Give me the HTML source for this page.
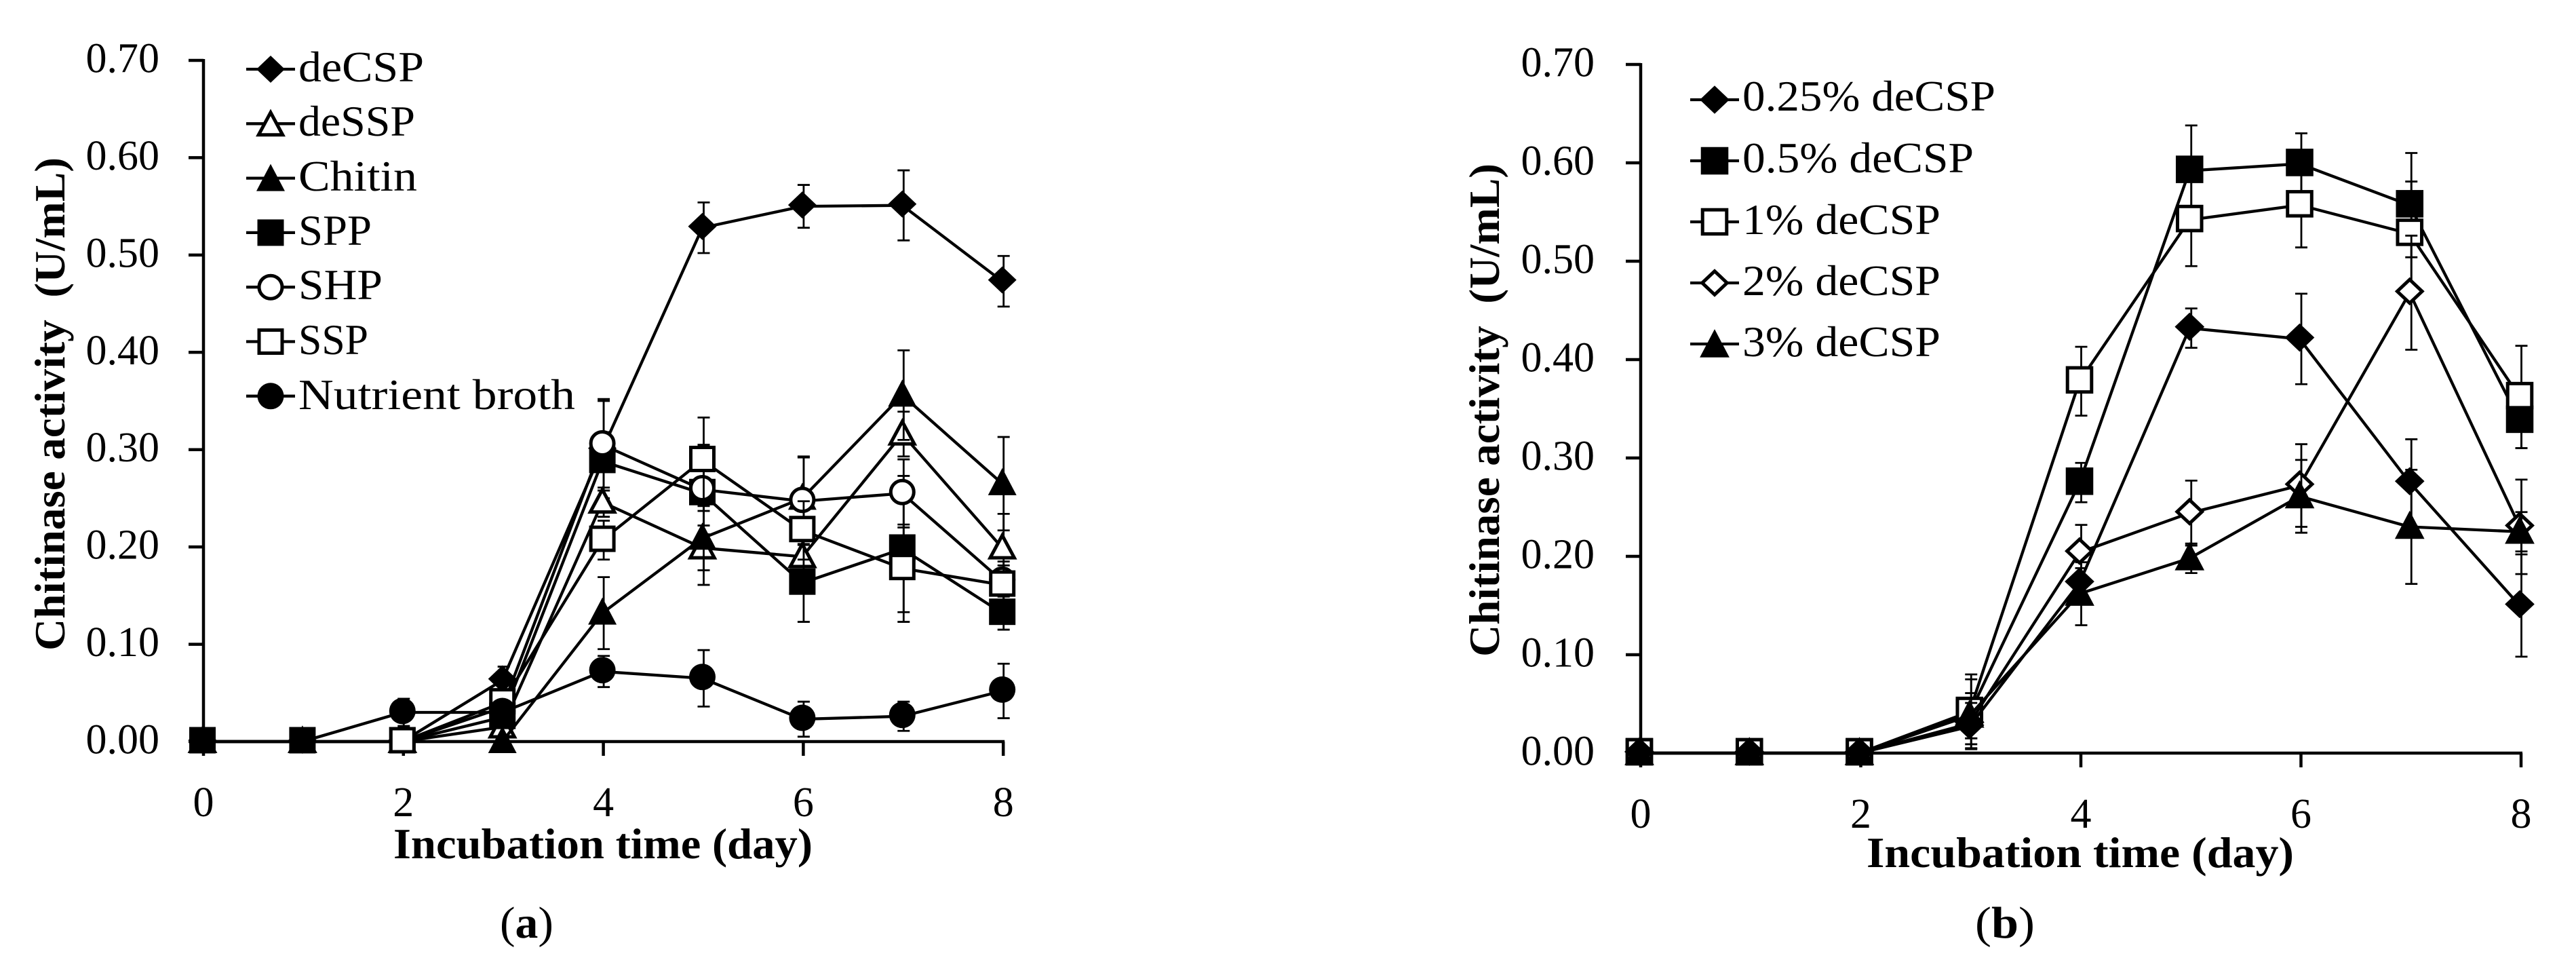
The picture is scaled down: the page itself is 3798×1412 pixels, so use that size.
<!DOCTYPE html>
<html lang="en">
<head>
<meta charset="utf-8">
<title>Chitinase activity over incubation time</title>
<style>
html,body{margin:0;padding:0;background:#fff;}
svg{display:block;}
text{font-family:"Liberation Serif",serif;fill:#000;}
</style>
</head>
<body>
<svg id="figure" xmlns="http://www.w3.org/2000/svg" width="3798" height="1412" viewBox="0 0 3798 1412">
  <rect x="0" y="0" width="3798" height="1412" fill="#fff"/>

  <g id="chart-a"></g>
  <g id="chart-b"></g>

  <text transform="translate(95,959) rotate(-90)" font-size="64" font-weight="bold" textLength="727" lengthAdjust="spacingAndGlyphs">Chitinase activity&#160;&#160;(U/mL)</text>
  <text x="580" y="1265" font-size="64" font-weight="bold" textLength="618" lengthAdjust="spacingAndGlyphs">Incubation time (day)</text>
  <text x="737" y="1382" font-size="66" textLength="79" lengthAdjust="spacingAndGlyphs">(<tspan font-weight="bold">a</tspan>)</text>

  <text x="440" y="120" font-size="64" textLength="185" lengthAdjust="spacingAndGlyphs">deCSP</text>
  <text x="440" y="200" font-size="64" textLength="172" lengthAdjust="spacingAndGlyphs">deSSP</text>
  <text x="440" y="281" font-size="64" textLength="175" lengthAdjust="spacingAndGlyphs">Chitin</text>
  <text x="440" y="361" font-size="64" textLength="108" lengthAdjust="spacingAndGlyphs">SPP</text>
  <text x="440" y="441" font-size="64" textLength="124" lengthAdjust="spacingAndGlyphs">SHP</text>
  <text x="440" y="522" font-size="64" textLength="103" lengthAdjust="spacingAndGlyphs">SSP</text>
  <text x="440" y="603" font-size="64" textLength="408" lengthAdjust="spacingAndGlyphs">Nutrient broth</text>

  <text transform="translate(2210,968) rotate(-90)" font-size="64" font-weight="bold" textLength="727" lengthAdjust="spacingAndGlyphs">Chitinase activity&#160;&#160;(U/mL)</text>
  <text x="2752" y="1278" font-size="64" font-weight="bold" textLength="630" lengthAdjust="spacingAndGlyphs">Incubation time (day)</text>
  <text x="2912" y="1382" font-size="66" textLength="88" lengthAdjust="spacingAndGlyphs">(<tspan font-weight="bold">b</tspan>)</text>

  <text x="2569" y="163" font-size="64" textLength="373" lengthAdjust="spacingAndGlyphs">0.25% deCSP</text>
  <text x="2569" y="254" font-size="64" textLength="341" lengthAdjust="spacingAndGlyphs">0.5% deCSP</text>
  <text x="2569" y="345" font-size="64" textLength="292" lengthAdjust="spacingAndGlyphs">1% deCSP</text>
  <text x="2569" y="435" font-size="64" textLength="292" lengthAdjust="spacingAndGlyphs">2% deCSP</text>
  <text x="2569" y="525" font-size="64" textLength="292" lengthAdjust="spacingAndGlyphs">3% deCSP</text>
</svg>

<script>
// Shared categories and tick labels
const days = [0, 1, 2, 3, 4, 5, 6, 7, 8];
const xTickLabels = [0, 2, 4, 6, 8];
const yTickLabels = ['0.00', '0.10', '0.20', '0.30', '0.40', '0.50', '0.60', '0.70'];

// Chart (a) values
const deCSP = [0, 0, 0, 0.063, 0.300, 0.528, 0.550, 0.551, 0.473];
const deCSPErr = [0, 0, 0, 0.014, 0.050, 0.026, 0.022, 0.036, 0.026];
const deSSP = [0, 0, 0, 0.015, 0.246, 0.199, 0.190, 0.316, 0.199];
const deSSPErr = [0, 0, 0, 0.010, 0.015, 0.038, 0.030, 0.023, 0.035];
const chitin = [0, 0, 0, 0, 0.132, 0.209, 0.250, 0.356, 0.265];
const chitinErr = [0, 0, 0, 0, 0.037, 0.033, 0.043, 0.046, 0.048];
const spp = [0, 0, 0, 0.025, 0.288, 0.255, 0.163, 0.198, 0.132];
const sppErr = [0, 0, 0, 0.010, 0.030, 0.033, 0.040, 0.075, 0.017];
const shp = [null, null, 0, 0.035, 0.305, 0.259, 0.247, 0.255, 0.165];
const shpErr = [0, 0, 0, 0.010, 0.047, 0.046, 0.045, 0.035, 0.020];
const ssp = [null, null, 0, 0.040, 0.207, 0.289, 0.217, 0.178, 0.161];
const sspErr = [0, 0, 0, 0.012, 0.020, 0.044, 0.030, 0.045, 0.020];
const nutrientBroth = [0, 0, 0.030, 0.030, 0.072, 0.065, 0.023, 0.026, 0.052];
const nutrientBrothErr = [0, 0, 0.014, 0.010, 0.016, 0.029, 0.018, 0.015, 0.028];

// Chart (b) values
const conc025 = [0, 0, 0, 0.027, 0.173, 0.432, 0.421, 0.275, 0.150];
const conc025Err = [0, 0, 0, 0.012, 0.015, 0.020, 0.046, 0.044, 0.052];
const conc05 = [0, 0, 0, 0.040, 0.275, 0.592, 0.599, 0.557, 0.338];
const conc05Err = [0, 0, 0, 0.035, 0.020, 0.046, 0.031, 0.053, 0.028];
const conc1 = [0, 0, 0, 0.042, 0.378, 0.542, 0.557, 0.528, 0.362];
const conc1Err = [0, 0, 0, 0.038, 0.035, 0.047, 0.043, 0.053, 0.052];
const conc2 = [0, 0, 0, 0.030, 0.204, 0.244, 0.272, 0.468, 0.230];
const conc2Err = [0, 0, 0, 0.021, 0.028, 0.033, 0.042, 0.058, 0.048];
const conc3 = [0, 0, 0, 0.038, 0.162, 0.198, 0.261, 0.230, 0.225];
const conc3Err = [0, 0, 0, 0.023, 0.032, 0.015, 0.037, 0.058, 0.020];

const NS = 'http://www.w3.org/2000/svg';

function svgEl(parent, tag, attrs) {
  const el = document.createElementNS(NS, tag);
  for (const k in attrs) el.setAttribute(k, attrs[k]);
  parent.appendChild(el);
  return el;
}

function drawMarker(parent, shape, cx, cy, id, size) {
  const filled = shape.indexOf('open') !== 0;
  const fill = filled ? '#000' : '#fff';
  const sw = filled ? 0 : 5;
  const inset = filled ? 0 : 2.5;
  let el;
  if (shape === 'square' || shape === 'open-square') {
    const h = size * 19.5 - inset;
    el = svgEl(parent, 'rect', {x: cx - h, y: cy - h, width: 2 * h, height: 2 * h, fill: fill, stroke: '#000', 'stroke-width': sw});
  } else if (shape === 'circle' || shape === 'open-circle') {
    el = svgEl(parent, 'circle', {cx: cx, cy: cy, r: size * 19.5 - inset, fill: fill, stroke: '#000', 'stroke-width': sw});
  } else if (shape === 'diamond' || shape === 'open-diamond') {
    const a = size * 21 - inset * 1.4;
    const b = size * 20 - inset * 1.4;
    el = svgEl(parent, 'polygon', {points: (cx - a) + ',' + cy + ' ' + cx + ',' + (cy - b) + ' ' + (cx + a) + ',' + cy + ' ' + cx + ',' + (cy + b), fill: fill, stroke: '#000', 'stroke-width': sw});
  } else {
    const a = size * 21 - inset * 1.3;
    const top = size * 21 - inset * 1.8;
    const bot = size * 19 - inset;
    el = svgEl(parent, 'polygon', {points: cx + ',' + (cy - top) + ' ' + (cx + a) + ',' + (cy + bot) + ' ' + (cx - a) + ',' + (cy + bot), fill: fill, stroke: '#000', 'stroke-width': sw});
  }
  
  
  return el;
}

function drawChart(cfg) {
  const root = document.getElementById(cfg.rootId);
  const xScale = function (d) { return cfg.x0 + d * cfg.xStep; };
  const yScale = function (v) { return cfg.y0 - v * cfg.yPerUnit; };
  const yMax = yScale(Number(yTickLabels[yTickLabels.length - 1]));

  const axes = svgEl(root, 'g', {});
  
  

  const yAxis = svgEl(axes, 'line', {x1: cfg.x0, y1: yMax - 2, x2: cfg.x0, y2: cfg.y0 + 2, stroke: '#000', 'stroke-width': 4.5});
  
  

  const xAxis = svgEl(axes, 'line', {x1: cfg.x0 - 2, y1: cfg.y0, x2: xScale(8) + 2, y2: cfg.y0, stroke: '#000', 'stroke-width': 4.5});
  
  

  yTickLabels.forEach(function (label) {
    const y = yScale(Number(label));
    const tick = svgEl(axes, 'line', {x1: cfg.x0 - 22, y1: y, x2: cfg.x0, y2: y, stroke: '#000', 'stroke-width': 4.5});
    
    
    const txt = svgEl(axes, 'text', {x: cfg.yLabelRight, y: y + 17.5, 'font-size': 62, 'text-anchor': 'end'});
    txt.textContent = label;
    
    
  });

  xTickLabels.forEach(function (label) {
    const x = xScale(label);
    const tick = svgEl(axes, 'line', {x1: x, y1: cfg.y0, x2: x, y2: cfg.y0 + 21, stroke: '#000', 'stroke-width': 4.5});
    
    
    const txt = svgEl(axes, 'text', {x: x, y: cfg.xLabelBaseline, 'font-size': 62, 'text-anchor': 'middle'});
    txt.textContent = String(label);
    
    
  });

  cfg.series.forEach(function (s) {
    const group = svgEl(root, 'g', {});
    
    

    days.forEach(function (d, i) {
      const v = s.values[i];
      const e = s.errors[i];
      if (v === null || !e) return;
      const x = xScale(d) + 0.5;
      const yT = yScale(v + e);
      const yB = yScale(v - e);
      const bar = svgEl(group, 'path', {d: 'M' + x + ' ' + yT + 'V' + yB + 'M' + (x - 9) + ' ' + yT + 'H' + (x + 9) + 'M' + (x - 9) + ' ' + yB + 'H' + (x + 9), stroke: '#000', 'stroke-width': 2.8, fill: 'none'});
      
      
    });

    const pts = [];
    days.forEach(function (d, i) {
      if (s.values[i] !== null) pts.push((xScale(d) + cfg.markerDx) + ',' + yScale(s.values[i]));
    });
    const line = svgEl(group, 'polyline', {points: pts.join(' '), fill: 'none', stroke: '#000', 'stroke-width': 4.3, 'stroke-linejoin': 'round'});
    
    

    days.forEach(function (d, i) {
      if (s.values[i] !== null) drawMarker(group, s.shape, xScale(d) + cfg.markerDx, yScale(s.values[i]) - 2, s.id, cfg.markerSize);
    });
  });

  cfg.series.forEach(function (s) {
    const y = cfg.legendY + s.legendRow * cfg.legendStep;
    const g = svgEl(root, 'g', {});
    
    
    const sample = svgEl(g, 'line', {x1: cfg.legendX - 36, y1: y, x2: cfg.legendX + 36, y2: y, stroke: '#000', 'stroke-width': 4.3});
    
    
    drawMarker(g, s.shape, cfg.legendX, y, 'legend-' + s.id, cfg.markerSize);
  });
}

drawChart({
  rootId: 'chart-a', prefix: 'chart-a',
  x0: 300, xStep: 147.4, y0: 1093, yPerUnit: 1434.3,
  yLabelRight: 235, xLabelBaseline: 1203, markerDx: -1.5, markerSize: 1,
  legendX: 399, legendY: 102, legendStep: 80.3,
  series: [
    {id: 'decsp', legendRow: 0, shape: 'diamond', values: deCSP, errors: deCSPErr},
    {id: 'dessp', legendRow: 1, shape: 'open-triangle', values: deSSP, errors: deSSPErr},
    {id: 'chitin', legendRow: 2, shape: 'triangle', values: chitin, errors: chitinErr},
    {id: 'spp', legendRow: 3, shape: 'square', values: spp, errors: sppErr},
    {id: 'shp', legendRow: 4, shape: 'open-circle', values: shp, errors: shpErr},
    {id: 'ssp', legendRow: 5, shape: 'open-square', values: ssp, errors: sspErr},
    {id: 'nutrient-broth', legendRow: 6, shape: 'circle', values: nutrientBroth, errors: nutrientBrothErr}
  ]
});

drawChart({
  rootId: 'chart-b', prefix: 'chart-b',
  x0: 2419, xStep: 162.25, y0: 1110, yPerUnit: 1450,
  yLabelRight: 2351, xLabelBaseline: 1220, markerDx: -2, markerSize: 1.04,
  legendX: 2528, legendY: 147, legendStep: 90,
  series: [
    {id: 'conc-05', legendRow: 1, shape: 'square', values: conc05, errors: conc05Err},
    {id: 'conc-1', legendRow: 2, shape: 'open-square', values: conc1, errors: conc1Err},
    {id: 'conc-2', legendRow: 3, shape: 'open-diamond', values: conc2, errors: conc2Err},
    {id: 'conc-3', legendRow: 4, shape: 'triangle', values: conc3, errors: conc3Err},
    {id: 'conc-025', legendRow: 0, shape: 'diamond', values: conc025, errors: conc025Err}
  ]
});
</script>
</body>
</html>
